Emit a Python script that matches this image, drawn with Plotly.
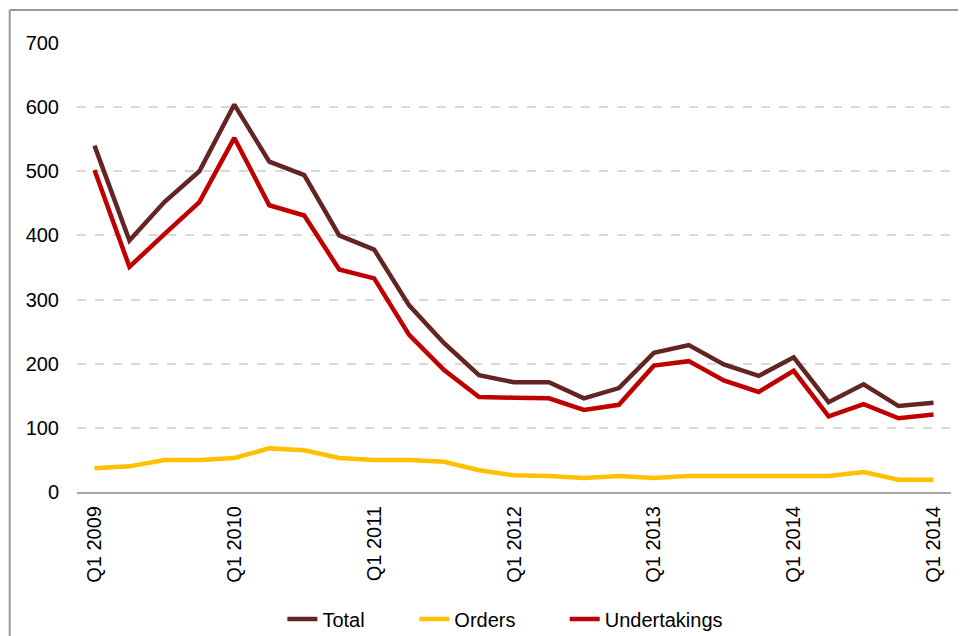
import plotly.graph_objects as go

quarters = [f"Q{q} {y}" for y in range(2009, 2015) for q in range(1, 5)] + ["Q1 2015"]
tick_positions = [0, 4, 8, 12, 16, 20, 24]
tick_labels = ["Q1 2009", "Q1 2010", "Q1 2011", "Q1 2012", "Q1 2013", "Q1 2014", "Q1 2014"]

total = [540, 392, 452, 500, 604, 515, 494, 400, 378, 291, 232, 182,
         171, 171, 146, 162, 217, 229, 199, 181, 210, 140, 168, 134, 139]
orders = [37, 40, 50, 50, 53, 68, 65, 53, 50, 50, 47, 34,
          26, 25, 22, 25, 22, 25, 25, 25, 25, 25, 31, 19, 19]
undertakings = [502, 351, 402, 452, 552, 447, 431, 347, 333, 245, 190, 148,
                147, 146, 128, 136, 197, 204, 174, 156, 189, 118, 137, 115, 121]

x = list(range(len(quarters)))
font = "Liberation Sans, Arial, sans-serif"

fig = go.Figure()
fig.add_trace(go.Scatter(x=x, y=total, name="Total", mode="lines", legend="legend",
                         line=dict(color="#632523", width=4.5), customdata=quarters))
fig.add_trace(go.Scatter(x=x, y=orders, name="Orders", mode="lines", legend="legend2",
                         line=dict(color="#FFC000", width=4.5), customdata=quarters))
fig.add_trace(go.Scatter(x=x, y=undertakings, name="Undertakings", mode="lines", legend="legend3",
                         line=dict(color="#C00000", width=4.5), customdata=quarters))

leg = dict(orientation="h", xanchor="left", y=-0.283, yanchor="middle",
           font=dict(size=20), bgcolor="rgba(0,0,0,0)")

fig.update_layout(
    width=950, height=628,
    margin=dict(l=68.5, r=6.5, t=35, b=144, autoexpand=False),
    paper_bgcolor="white", plot_bgcolor="white",
    font=dict(family=font, size=20, color="#000000"),
    showlegend=True,
    legend=dict(leg, x=0.235),
    legend2=dict(leg, x=0.386),
    legend3=dict(leg, x=0.558),
    xaxis=dict(range=[-0.5, 24.5], tickmode="array", tickvals=tick_positions,
               ticktext=tick_labels, tickangle=-90, showgrid=False,
               showline=True, linecolor="#a6a6a6", linewidth=2, automargin=False,
               ticks="", ticklabelstandoff=4, zeroline=False,
               tickfont=dict(size=20)),
    yaxis=dict(range=[0, 700], tickvals=[0, 100, 200, 300, 400, 500, 600, 700],
               showgrid=True, gridcolor="#d9d9d9", gridwidth=1.5, griddash="dash",
               zeroline=False, showline=False, ticks="", ticklabelstandoff=17,
               automargin=False, tickfont=dict(size=20)),
    shapes=[
        dict(type="line", xref="paper", yref="paper", x0=-0.077, x1=1.05,
             y0=1.0735, y1=1.0735, line=dict(color="#999999", width=2)),
        dict(type="line", xref="paper", yref="paper", x0=-0.077, x1=-0.077,
             y0=1.0735, y1=-0.35, line=dict(color="#999999", width=2)),
    ],
)

fig.write_html("out.html")
